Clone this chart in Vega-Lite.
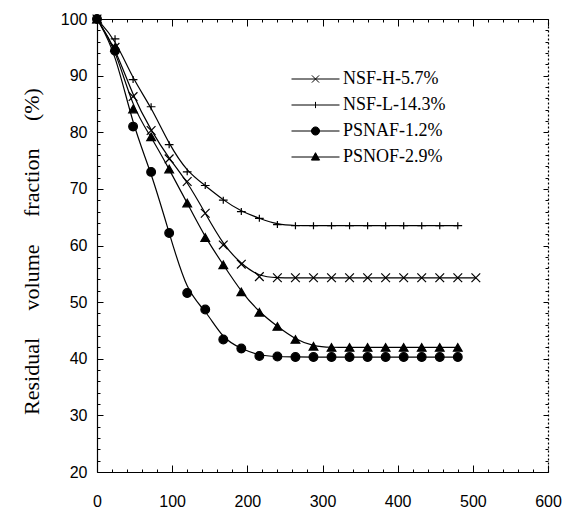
{
  "$schema": "https://vega.github.io/schema/vega-lite/v6.json",
  "width": 451,
  "height": 453,
  "autosize": {"type": "none"},
  "padding": {"left": 97, "top": 19, "right": 20, "bottom": 38},
  "background": "white",
  "config": {
    "view": {"stroke": null},
    "axis": {"domainColor": "black", "tickColor": "black", "labelColor": "black", "labelFont": "Liberation Sans", "labelFontSize": 16, "grid": false, "domainWidth": 1.2, "tickWidth": 1}
  },
  "data": {"values": [
    {"series": "NSF-H-5.7%", "time": 0, "fraction": 100},
    {"series": "NSF-H-5.7%", "time": 24, "fraction": 95},
    {"series": "NSF-H-5.7%", "time": 48, "fraction": 86.3},
    {"series": "NSF-H-5.7%", "time": 72, "fraction": 80.3},
    {"series": "NSF-H-5.7%", "time": 96, "fraction": 75.3},
    {"series": "NSF-H-5.7%", "time": 120, "fraction": 71.3},
    {"series": "NSF-H-5.7%", "time": 144, "fraction": 65.7},
    {"series": "NSF-H-5.7%", "time": 168, "fraction": 60.1},
    {"series": "NSF-H-5.7%", "time": 192, "fraction": 56.7},
    {"series": "NSF-H-5.7%", "time": 216, "fraction": 54.5},
    {"series": "NSF-H-5.7%", "time": 240, "fraction": 54.3},
    {"series": "NSF-H-5.7%", "time": 264, "fraction": 54.3},
    {"series": "NSF-H-5.7%", "time": 288, "fraction": 54.3},
    {"series": "NSF-H-5.7%", "time": 312, "fraction": 54.3},
    {"series": "NSF-H-5.7%", "time": 336, "fraction": 54.3},
    {"series": "NSF-H-5.7%", "time": 360, "fraction": 54.3},
    {"series": "NSF-H-5.7%", "time": 384, "fraction": 54.3},
    {"series": "NSF-H-5.7%", "time": 408, "fraction": 54.3},
    {"series": "NSF-H-5.7%", "time": 432, "fraction": 54.3},
    {"series": "NSF-H-5.7%", "time": 456, "fraction": 54.3},
    {"series": "NSF-H-5.7%", "time": 480, "fraction": 54.3},
    {"series": "NSF-H-5.7%", "time": 504, "fraction": 54.3},
    {"series": "NSF-L-14.3%", "time": 0, "fraction": 100},
    {"series": "NSF-L-14.3%", "time": 24, "fraction": 96.5},
    {"series": "NSF-L-14.3%", "time": 48, "fraction": 89.3},
    {"series": "NSF-L-14.3%", "time": 72, "fraction": 84.5},
    {"series": "NSF-L-14.3%", "time": 96, "fraction": 77.8},
    {"series": "NSF-L-14.3%", "time": 120, "fraction": 73.0},
    {"series": "NSF-L-14.3%", "time": 144, "fraction": 70.6},
    {"series": "NSF-L-14.3%", "time": 168, "fraction": 68.0},
    {"series": "NSF-L-14.3%", "time": 192, "fraction": 66.0},
    {"series": "NSF-L-14.3%", "time": 216, "fraction": 64.8},
    {"series": "NSF-L-14.3%", "time": 240, "fraction": 63.7},
    {"series": "NSF-L-14.3%", "time": 264, "fraction": 63.5},
    {"series": "NSF-L-14.3%", "time": 288, "fraction": 63.5},
    {"series": "NSF-L-14.3%", "time": 312, "fraction": 63.5},
    {"series": "NSF-L-14.3%", "time": 336, "fraction": 63.5},
    {"series": "NSF-L-14.3%", "time": 360, "fraction": 63.5},
    {"series": "NSF-L-14.3%", "time": 384, "fraction": 63.5},
    {"series": "NSF-L-14.3%", "time": 408, "fraction": 63.5},
    {"series": "NSF-L-14.3%", "time": 432, "fraction": 63.5},
    {"series": "NSF-L-14.3%", "time": 456, "fraction": 63.5},
    {"series": "NSF-L-14.3%", "time": 480, "fraction": 63.5},
    {"series": "PSNAF-1.2%", "time": 0, "fraction": 100},
    {"series": "PSNAF-1.2%", "time": 24, "fraction": 94.4},
    {"series": "PSNAF-1.2%", "time": 48, "fraction": 81.0},
    {"series": "PSNAF-1.2%", "time": 72, "fraction": 73.0},
    {"series": "PSNAF-1.2%", "time": 96, "fraction": 62.2},
    {"series": "PSNAF-1.2%", "time": 120, "fraction": 51.6},
    {"series": "PSNAF-1.2%", "time": 144, "fraction": 48.7},
    {"series": "PSNAF-1.2%", "time": 168, "fraction": 43.4},
    {"series": "PSNAF-1.2%", "time": 192, "fraction": 41.8},
    {"series": "PSNAF-1.2%", "time": 216, "fraction": 40.5},
    {"series": "PSNAF-1.2%", "time": 240, "fraction": 40.4},
    {"series": "PSNAF-1.2%", "time": 264, "fraction": 40.3},
    {"series": "PSNAF-1.2%", "time": 288, "fraction": 40.3},
    {"series": "PSNAF-1.2%", "time": 312, "fraction": 40.3},
    {"series": "PSNAF-1.2%", "time": 336, "fraction": 40.3},
    {"series": "PSNAF-1.2%", "time": 360, "fraction": 40.3},
    {"series": "PSNAF-1.2%", "time": 384, "fraction": 40.3},
    {"series": "PSNAF-1.2%", "time": 408, "fraction": 40.3},
    {"series": "PSNAF-1.2%", "time": 432, "fraction": 40.3},
    {"series": "PSNAF-1.2%", "time": 456, "fraction": 40.3},
    {"series": "PSNAF-1.2%", "time": 480, "fraction": 40.3},
    {"series": "PSNOF-2.9%", "time": 0, "fraction": 100},
    {"series": "PSNOF-2.9%", "time": 24, "fraction": 95.0},
    {"series": "PSNOF-2.9%", "time": 48, "fraction": 84.1},
    {"series": "PSNOF-2.9%", "time": 72, "fraction": 79.2},
    {"series": "PSNOF-2.9%", "time": 96, "fraction": 73.5},
    {"series": "PSNOF-2.9%", "time": 120, "fraction": 67.5},
    {"series": "PSNOF-2.9%", "time": 144, "fraction": 61.4},
    {"series": "PSNOF-2.9%", "time": 168, "fraction": 56.6},
    {"series": "PSNOF-2.9%", "time": 192, "fraction": 51.8},
    {"series": "PSNOF-2.9%", "time": 216, "fraction": 48.2},
    {"series": "PSNOF-2.9%", "time": 240, "fraction": 45.7},
    {"series": "PSNOF-2.9%", "time": 264, "fraction": 43.4},
    {"series": "PSNOF-2.9%", "time": 288, "fraction": 42.2},
    {"series": "PSNOF-2.9%", "time": 312, "fraction": 42.0},
    {"series": "PSNOF-2.9%", "time": 336, "fraction": 42.0},
    {"series": "PSNOF-2.9%", "time": 360, "fraction": 42.0},
    {"series": "PSNOF-2.9%", "time": 384, "fraction": 42.0},
    {"series": "PSNOF-2.9%", "time": 408, "fraction": 42.0},
    {"series": "PSNOF-2.9%", "time": 432, "fraction": 42.0},
    {"series": "PSNOF-2.9%", "time": 456, "fraction": 42.0},
    {"series": "PSNOF-2.9%", "time": 480, "fraction": 42.0}
  ]},
  "layer": [
    {
      "mark": {"type": "line", "interpolate": "basis", "color": "black", "strokeWidth": 1.2},
      "encoding": {
        "x": {"field": "time", "type": "quantitative", "scale": {"domain": [0, 600], "nice": false},
          "axis": {"orient": "bottom", "title": null, "values": [0,20,40,60,80,100,120,140,160,180,200,220,240,260,280,300,320,340,360,380,400,420,440,460,480,500,520,540,560,580,600],
            "labelExpr": "datum.value % 100 === 0 ? datum.label : ''", "labelOverlap": false, "labelFlush": false,
            "tickSize": {"condition": {"test": "datum.value % 100 === 0", "value": -7}, "value": -3}, "labelPadding": 28}},
        "y": {"field": "fraction", "type": "quantitative", "scale": {"domain": [20, 100], "nice": false, "zero": false},
          "axis": {"orient": "left", "title": "Residual\u00a0\u00a0\u00a0\u00a0 volume\u00a0\u00a0\u00a0\u00a0 fraction\u00a0\u00a0\u00a0\u00a0 (%)", "titleFont": "Liberation Serif", "titleFontSize": 22, "titleFontWeight": "normal", "titleColor": "black", "titlePadding": 17, "titleY": 232,
            "values": [20,22,24,26,28,30,32,34,36,38,40,42,44,46,48,50,52,54,56,58,60,62,64,66,68,70,72,74,76,78,80,82,84,86,88,90,92,94,96,98,100],
            "labelExpr": "datum.value % 10 === 0 ? datum.label : ''", "labelOverlap": false, "labelFlush": false,
            "tickSize": {"condition": {"test": "datum.value % 10 === 0", "value": -6}, "value": -3}, "labelPadding": 16}},
        "detail": {"field": "series", "type": "nominal"}
      }
    },
    {
      "mark": {"type": "point", "filled": true, "fill": "black", "stroke": "black", "strokeWidth": 1.2, "opacity": 1, "size": 76},
      "encoding": {
        "x": {"field": "time", "type": "quantitative",
          "axis": {"orient": "top", "title": null, "labels": false, "values": [0,20,40,60,80,100,120,140,160,180,200,220,240,260,280,300,320,340,360,380,400,420,440,460,480,500,520,540,560,580,600],
            "tickSize": {"condition": {"test": "datum.value % 100 === 0", "value": -7}, "value": -3}}},
        "y": {"field": "fraction", "type": "quantitative",
          "axis": {"orient": "right", "title": null, "labels": false, "domainDash": [2, 2],
            "values": [20,22,24,26,28,30,32,34,36,38,40,42,44,46,48,50,52,54,56,58,60,62,64,66,68,70,72,74,76,78,80,82,84,86,88,90,92,94,96,98,100],
            "tickSize": {"condition": {"test": "datum.value % 10 === 0", "value": -5}, "value": -3}}},
        "shape": {"field": "series", "type": "nominal",
          "scale": {"domain": ["NSF-H-5.7%", "NSF-L-14.3%", "PSNAF-1.2%", "PSNOF-2.9%"],
            "range": ["M-1,-1L1,1M-1,1L1,-1", "M-1,0L1,0M0,-0.8L0,0.8", "circle", "triangle-up"]},
          "legend": null}
      }
    },
    {
      "mark": {"type": "point", "filled": true, "fill": "black", "stroke": "black", "strokeWidth": 1, "opacity": 0},
      "encoding": {
        "x": {"field": "time", "type": "quantitative", "axis": null},
        "y": {"field": "fraction", "type": "quantitative", "axis": null},
        "shape": {"field": "series", "type": "nominal",
          "scale": {"domain": ["NSF-H-5.7%", "NSF-L-14.3%", "PSNAF-1.2%", "PSNOF-2.9%"],
            "range": [
              "M-1,0L1,0M-0.15,-0.15L0.15,0.15M-0.15,0.15L0.15,-0.15",
              "M-1,0L1,0M0,-0.13L0,0.13",
              "M-1,0L1,0M-0.17,0A0.17,0.17,0,1,0,0.17,0A0.17,0.17,0,1,0,-0.17,0Z",
              "M-1,0L1,0M0,-0.18L0.17,0.13L-0.17,0.13Z"
            ]},
          "legend": {"title": null, "orient": "none", "legendX": 194, "legendY": 51, "padding": 0,
            "symbolSize": 2304, "symbolStrokeWidth": 1, "symbolOpacity": 1, "symbolFillColor": "black", "symbolStrokeColor": "black",
            "labelFont": "Liberation Serif", "labelFontSize": 18, "labelColor": "black", "labelOffset": 3, "rowPadding": 8, "clipHeight": 18,
            "encoding": {"symbols": {"opacity": {"value": 1}, "fill": {"value": "black"}, "stroke": {"value": "black"}}}}
        }
      }
    }
  ],
  "resolve": {"axis": {"x": "independent", "y": "independent"}, "scale": {"shape": "independent"}, "legend": {"shape": "independent"}}
}
